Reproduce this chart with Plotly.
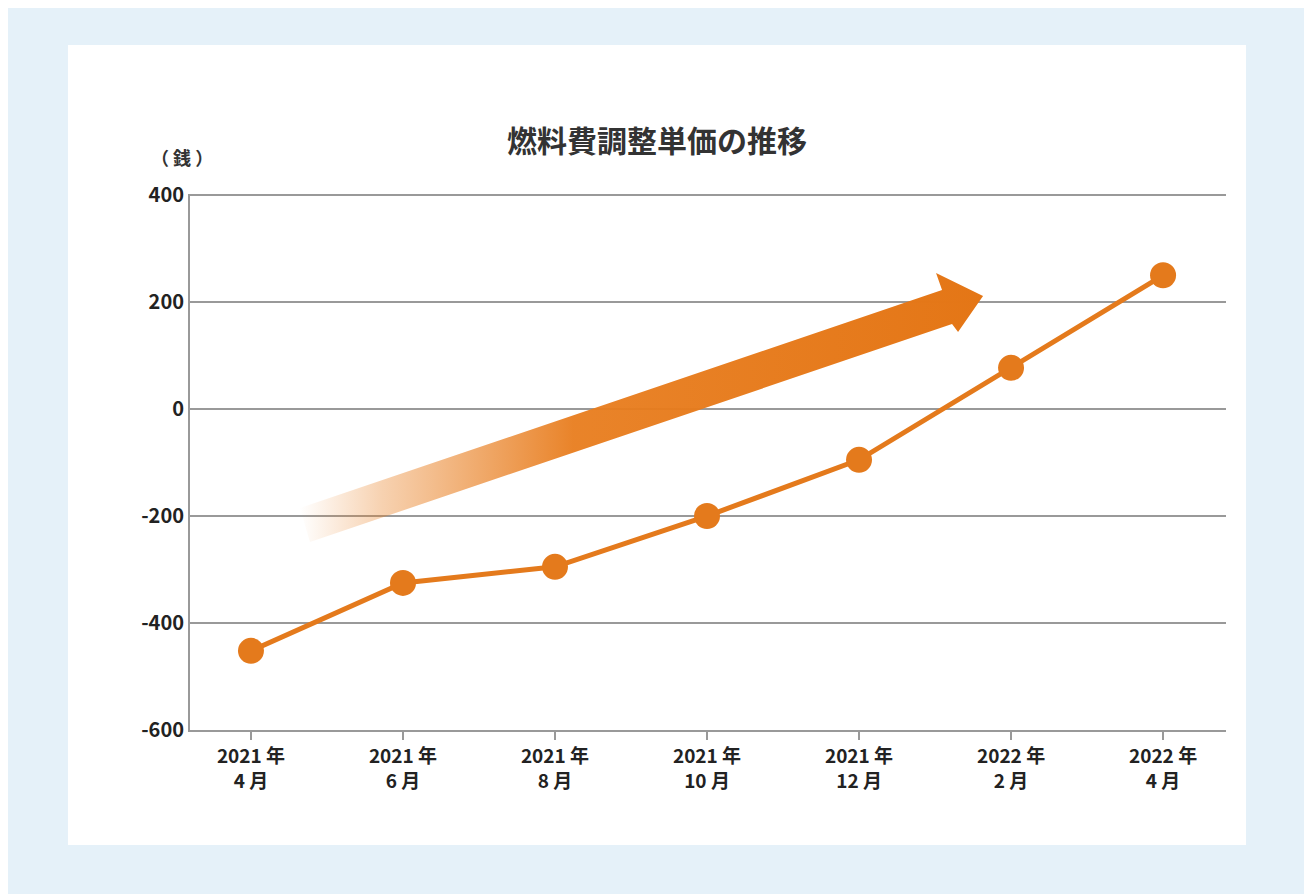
import plotly.graph_objects as go

months = ["2021 年<br>4 月", "2021 年<br>6 月", "2021 年<br>8 月", "2021 年<br>10 月",
          "2021 年<br>12 月", "2022 年<br>2 月", "2022 年<br>4 月"]
values = [-452, -325, -295, -200, -95, 77, 250]
y_ticks = [-600, -400, -200, 0, 200, 400]
y_labels = ["-600", "-400", "-200", "0", "200", "400"]
x_pos = list(range(len(months)))

orange = "rgb(228,122,28)"
font = "Noto Sans CJK JP"

# pixel -> data helpers for the decorative arrow
def px_x(p):
    return (p - 251) / 152.0

def px_y(p):
    return (408 - p) / 0.535

arrow_px = [(300, 507), (942, 289), (936, 272), (983, 295), (958, 331), (952, 323), (310, 541), (300, 507)]
ax = [px_x(p[0]) for p in arrow_px]
ay = [px_y(p[1]) for p in arrow_px]

fig = go.Figure()
fig.add_trace(go.Scatter(
    x=ax, y=ay, mode="lines", line=dict(width=0), fill="toself",
    fillgradient=dict(type="horizontal",
                      colorscale=[[0, "rgba(232,125,30,0)"], [0.12, "rgba(232,125,30,0.35)"],
                                  [0.4, "rgba(232,125,30,0.95)"], [1, "rgb(228,118,22)"]]),
    hoverinfo="skip", showlegend=False))
fig.add_trace(go.Scatter(
    x=x_pos, y=values, mode="lines+markers",
    line=dict(color=orange, width=5), marker=dict(color=orange, size=26),
    showlegend=False, cliponaxis=False))

fig.add_shape(type="rect", xref="paper", yref="paper", x0=-0.1178, x1=1.0193, y0=-0.2146, y1=1.278,
              fillcolor="white", line=dict(width=0), layer="below")
fig.add_annotation(text="燃料費調整単価の推移", xref="paper", yref="paper", x=0.451, y=1.147,
                   showarrow=False, font=dict(size=30, color="#333", family=font, weight=600))
fig.add_annotation(text="（ 銭 ）", xref="paper", yref="paper", x=-0.04, y=1.097,
                   showarrow=False, font=dict(size=18, color="#333", family=font, weight=600))

fig.update_layout(
    width=1312, height=894, margin=dict(l=182, r=94, t=186, b=172),
    paper_bgcolor="#e5f1f9", plot_bgcolor="white",
    xaxis=dict(range=[-0.401, 6.414], tickvals=x_pos, ticktext=months, showgrid=False,
               showline=True, linecolor="#999", linewidth=2, ticks="outside", ticklen=8,
               tickcolor="#999", tickwidth=2, zeroline=False,
               tickfont=dict(size=19, color="#222", family=font, weight=600)),
    yaxis=dict(range=[-600, 402], tickvals=y_ticks, ticktext=y_labels, showgrid=True,
               gridcolor="#999", gridwidth=2, showline=True, linecolor="#999", linewidth=2,
               zeroline=False, ticks="", tickfont=dict(size=20, color="#222", family=font, weight=600)),
)
fig.write_html("out.html")
